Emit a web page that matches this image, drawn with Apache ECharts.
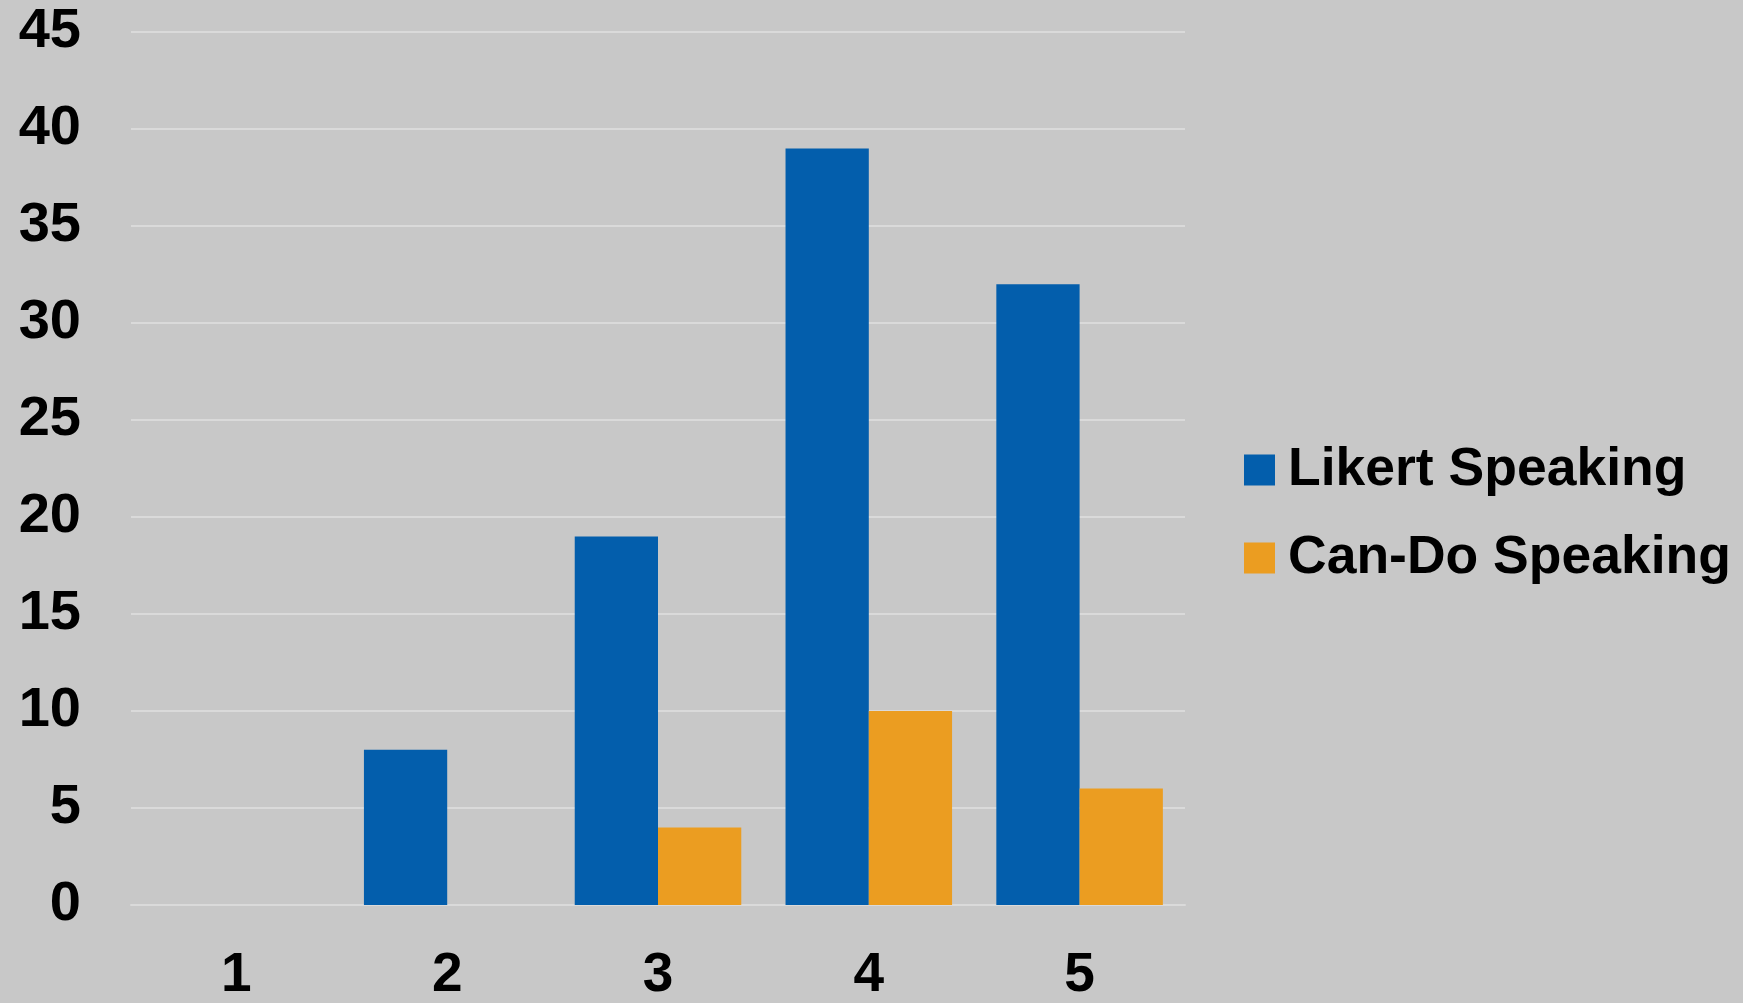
<!DOCTYPE html>
<html>
<head>
<meta charset="utf-8">
<script src="https://cdn.jsdelivr.net/npm/echarts@6/dist/echarts.min.js"></script>
<style>
html,body{margin:0;padding:0;background:#c8c8c8;}
#chart{width:1743px;height:1003px;}
</style>
</head>
<body>
<div id="chart"></div>
<script>
const categories = ['1', '2', '3', '4', '5'];
const likertSpeaking = [0, 8, 19, 39, 32];
const canDoSpeaking = [0, 0, 4, 10, 6];
const seriesNames = ['Likert Speaking', 'Can-Do Speaking'];

const FONT = '"Liberation Sans", Arial, sans-serif';
const chart = echarts.init(document.getElementById('chart'));
chart.setOption({
  backgroundColor: '#c8c8c8',
  animation: false,
  grid: { left: 131, right: 558, top: 32, bottom: 94, containLabel: false },
  legend: {
    orient: 'vertical',
    left: 1239,
    top: 436,
    itemWidth: 31,
    itemHeight: 31,
    itemGap: 30,
    icon: 'rect',
    textStyle: { fontFamily: FONT, fontSize: 53.5, fontWeight: 'bold', color: '#000', lineHeight: 58, padding: [0, 0, 0, 8] },
    data: seriesNames
  },
  xAxis: {
    type: 'category',
    data: categories,
    axisLine: { show: true, lineStyle: { color: '#dadada', width: 2 } },
    axisTick: { show: false },
    axisLabel: { fontFamily: FONT, fontSize: 55, fontWeight: 'bold', color: '#000', margin: 43 }
  },
  yAxis: {
    type: 'value',
    min: 0, max: 45, interval: 5,
    axisLine: { show: false },
    axisTick: { show: false },
    splitLine: { lineStyle: { color: '#dadada', width: 2 } },
    axisLabel: { fontFamily: FONT, fontSize: 56, fontWeight: 'bold', color: '#000', margin: 50 }
  },
  series: [
    { name: seriesNames[0], type: 'bar', data: likertSpeaking, barGap: '0%', barCategoryGap: '21%', itemStyle: { color: '#035eac' } },
    { name: seriesNames[1], type: 'bar', data: canDoSpeaking, barGap: '0%', barCategoryGap: '21%', itemStyle: { color: '#eb9d21' } }
  ]
});
</script>
</body>
</html>
